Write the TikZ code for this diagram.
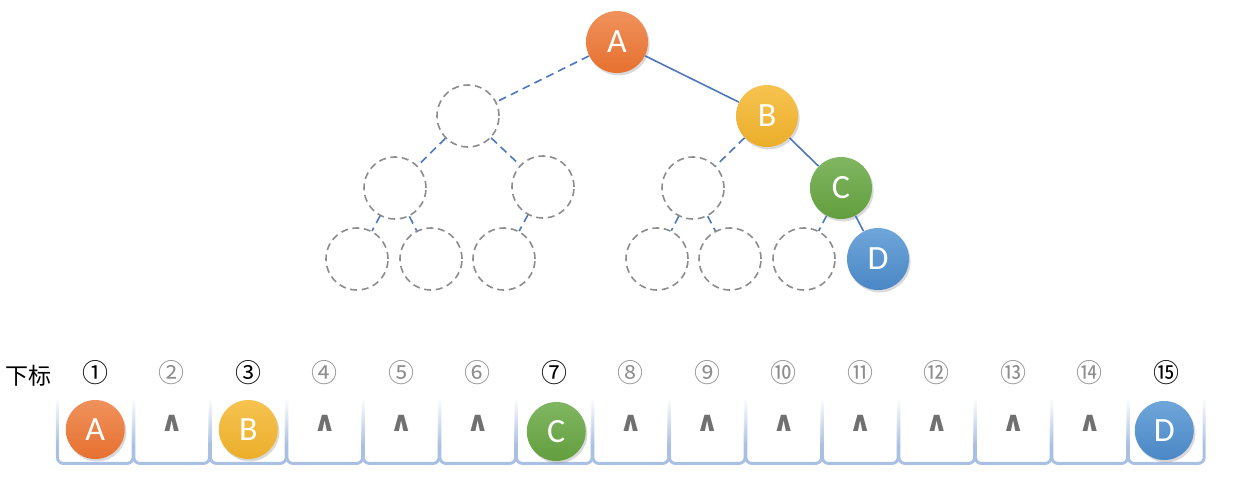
\documentclass[tikz,border=0pt]{standalone}
\usepackage{fontspec}
\setmainfont{Carlito}
\newfontfamily\cjkfont{Noto Sans CJK SC}
\newfontfamily\symfont{DejaVu Sans}
\usetikzlibrary{positioning, calc, shadows, fadings}
\definecolor{aTop}{HTML}{F0925C}
\definecolor{aBot}{HTML}{E6702F}
\definecolor{bTop}{HTML}{F6C350}
\definecolor{bBot}{HTML}{EBAE2A}
\definecolor{cTop}{HTML}{80B661}
\definecolor{cBot}{HTML}{629E3E}
\definecolor{dTop}{HTML}{6FA6DA}
\definecolor{dBot}{HTML}{4A87C5}
\definecolor{edgeBlue}{HTML}{4C78C0}
\definecolor{ringGray}{HTML}{8C8C8C}
\definecolor{cellBlue}{HTML}{A9C0E3}
\definecolor{idxGray}{HTML}{8E8E8E}
\definecolor{nullGray}{HTML}{707070}

\tikzset{
	ball/.style={circle, minimum size=31pt, inner sep=0pt, text=white,
		font=\fontsize{17}{20}\selectfont,
		drop shadow={opacity=0.3, shadow xshift=0.8pt, shadow yshift=-1.2pt}},
	ballA/.style={ball, top color=aTop, bottom color=aBot},
	ballB/.style={ball, top color=bTop, bottom color=bBot},
	ballC/.style={ball, top color=cTop, bottom color=cBot},
	ballD/.style={ball, top color=dTop, bottom color=dBot},
	arrBall/.style={minimum size=29.5pt},
	emptyNode/.style={circle, minimum size=31pt, inner sep=0pt, draw=ringGray,
		line width=0.8pt, dash pattern=on 3.5pt off 2.3pt},
	treeEdge/.style={draw=edgeBlue, line width=0.8pt},
	hiddenEdge/.style={treeEdge, dash pattern=on 4pt off 2.6pt},
	cellBox/.style={rectangle, minimum width=37.5pt, minimum height=31.5pt, inner sep=0pt},
	cellLine/.style={draw=cellBlue, line width=1.5pt, rounded corners=3pt},
	idxLabel/.style={font=\cjkfont\fontsize{13}{15}\selectfont, inner sep=0pt},
	nullMark/.style={font=\symfont\bfseries\fontsize{14}{16}\selectfont, text=nullGray, inner sep=0pt}
}

\begin{document}
\begin{tikzpicture}[x=0.5pt, y=-0.5pt]
	\useasboundingbox (0,0) rectangle (1234,487);

	% tree
	\node[ballA] (A) at (617,42) {A};
	\node[emptyNode] (L) at (468,116) {};
	\node[ballB] (B) at (767,116) {B};
	\node[emptyNode] (LL) at (395,188) {};
	\node[emptyNode] (LR) at (543,187) {};
	\node[emptyNode] (BL) at (693,188) {};
	\node[ballC] (C) at (841,188) {C};
	\node[emptyNode] (LLL) at (357,259) {};
	\node[emptyNode] (LLR) at (431,259) {};
	\node[emptyNode] (LRL) at (504,259) {};
	\node[emptyNode] (BLL) at (657,259) {};
	\node[emptyNode] (BLR) at (730,259) {};
	\node[emptyNode] (CL) at (804,259) {};
	\node[ballD] (D) at (878,259) {D};

	\draw[treeEdge] (A) -- (B);
	\draw[treeEdge] (B) -- (C);
	\draw[treeEdge] (C) -- (D);
	\draw[hiddenEdge] (A) -- (L);
	\draw[hiddenEdge] (L) -- (LL);
	\draw[hiddenEdge] (L) -- (LR);
	\draw[hiddenEdge] (LL) -- (LLL);
	\draw[hiddenEdge] (LL) -- (LLR);
	\draw[hiddenEdge] (LR) -- (LRL);
	\draw[hiddenEdge] (B) -- (BL);
	\draw[hiddenEdge] (BL) -- (BLL);
	\draw[hiddenEdge] (BL) -- (BLR);
	\draw[hiddenEdge] (C) -- (CL);

	% array
	\node[idxLabel, font=\cjkfont\fontsize{11.5}{13}\selectfont] (subLabel) at (28,376) {下标};
	\foreach \i/\g/\c in {1/①/black, 2/②/idxGray, 3/③/black, 4/④/idxGray, 5/⑤/idxGray,
		6/⑥/idxGray, 7/⑦/black, 8/⑧/idxGray, 9/⑨/idxGray, 10/⑩/idxGray, 11/⑪/idxGray,
		12/⑫/idxGray, 13/⑬/idxGray, 14/⑭/idxGray, 15/⑮/black} {
		\node[cellBox] (cell\i) at ({57+76.5*(\i-0.5)},431.5) {};
		\draw[cellLine] (cell\i.north west) -- (cell\i.south west)
			-- (cell\i.south east) -- (cell\i.north east);
		\fill[white, path fading=south] ($(cell\i.north west)+(-3,-2)$)
			rectangle ($(cell\i.east)+(3,14)$);
		\node[idxLabel, text=\c] (idx\i) at ({57+76.5*(\i-0.5)},373) {\g};
	}
	\foreach \i in {2,4,5,6,8,9,10,11,12,13,14}
		\node[nullMark] (null\i) at ($(cell\i)+(0,-8)$) {∧};

	\node[ballA, arrBall] (arrA) at ($(cell1)+(0,-2)$) {A};
	\node[ballB, arrBall] (arrB) at ($(cell3)+(0,-2)$) {B};
	\node[ballC, arrBall] (arrC) at ($(cell7)+(2,0)$) {C};
	\node[ballD, arrBall] (arrD) at ($(cell15)+(-2,-1)$) {D};
\end{tikzpicture}
\end{document}
